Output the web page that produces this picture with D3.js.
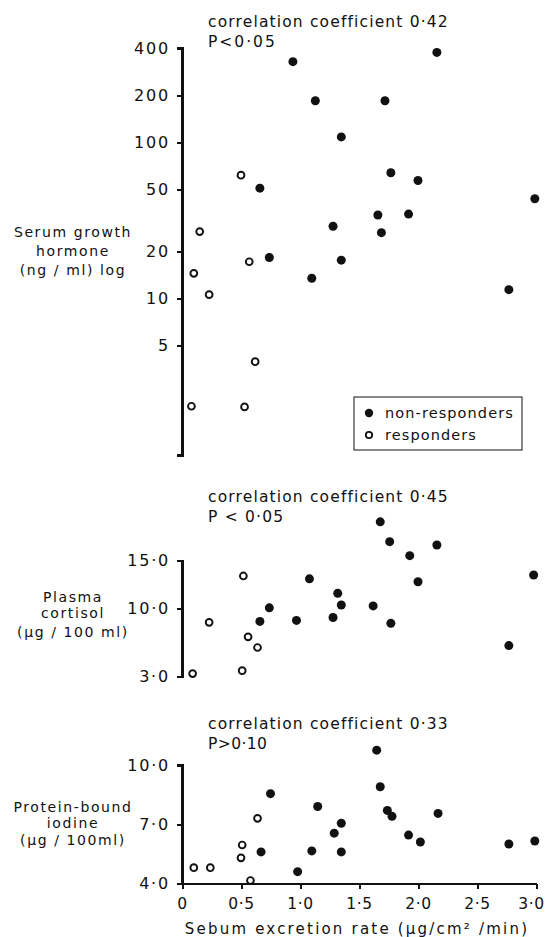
<!DOCTYPE html>
<html>
<head>
<meta charset="utf-8">
<script src="https://cdn.jsdelivr.net/npm/d3@7"></script>
<style>
  html, body { margin: 0; padding: 0; background: #fff; }
  svg { display: block; }
  .domain, .tick line { shape-rendering: crispEdges; }
</style>
</head>
<body>
<svg id="chart" width="549" height="937"></svg>
<script>
// ---------- DATA ----------
// Panel 1: Serum growth hormone (ng/ml, log scale)
const gh_non_x = [0.94, 2.16, 1.13, 1.72, 1.35, 1.77, 2.00, 0.66, 2.99, 1.66, 1.92, 1.28, 1.69, 0.74, 1.10, 1.35, 2.77];
const gh_non_y = [327, 375, 184, 184, 108, 63.7, 56.9, 50.8, 43.5, 34.2, 34.7, 29.0, 26.4, 18.3, 13.5, 17.6, 11.4];
const gh_resp_x = [0.50, 0.15, 0.10, 0.23, 0.57, 0.62, 0.08, 0.53];
const gh_resp_y = [61.5, 26.8, 14.5, 10.6, 17.2, 3.95, 2.05, 2.03];
const gh_ticks = [400, 200, 100, 50, 20, 10, 5];

// Panel 2: Plasma cortisol (µg/100 ml)
const co_non_x = [1.68, 1.76, 2.16, 1.93, 2.98, 1.08, 2.00, 1.32, 0.74, 1.35, 1.62, 0.66, 0.97, 1.28, 1.77, 2.77];
const co_non_y = [19.0, 16.95, 16.6, 15.5, 13.5, 13.1, 12.8, 11.6, 10.1, 10.4, 10.3, 8.7, 8.8, 9.1, 8.5, 6.2];
const co_resp_x = [0.52, 0.23, 0.56, 0.64, 0.09, 0.51];
const co_resp_y = [13.4, 8.6, 7.1, 6.0, 3.3, 3.6];
const co_ticks = [15, 10, 3];
const co_tick_labels = ["15·0", "10·0", "3·0"];

// Panel 3: Protein-bound iodine (µg/100 ml)
const pbi_non_x = [1.65, 1.68, 0.75, 1.15, 1.74, 1.78, 2.17, 1.35, 1.29, 1.92, 2.02, 2.77, 2.99, 0.67, 1.10, 1.35, 0.98];
const pbi_non_y = [10.75, 8.9, 8.55, 7.9, 7.7, 7.4, 7.55, 7.05, 6.55, 6.45, 6.1, 6.0, 6.15, 5.6, 5.65, 5.6, 4.6];
const pbi_resp_x = [0.64, 0.51, 0.50, 0.10, 0.24, 0.58];
const pbi_resp_y = [7.3, 5.95, 5.3, 4.8, 4.8, 4.15];
const pbi_ticks = [10, 7, 4];
const pbi_tick_labels = ["10·0", "7·0", "4·0"];

// X axis
const x_ticks = [0, 0.5, 1, 1.5, 2, 2.5, 3];
const x_tick_labels = ["0", "0·5", "1·0", "1·5", "2·0", "2·5", "3·0"];

const stats = [
  ["correlation coefficient  0·42", "P<0·05"],
  ["correlation coefficient  0·45", "P < 0·05"],
  ["correlation coefficient  0·33", "P>0·10"]
];
const legendLabels = ["non-responders", "responders"];

// ---------- DRAW ----------
const svg = d3.select("#chart");
const FONT = "DejaVu Sans, sans-serif";
const INK = "#111";
const x = d3.scaleLinear().domain([0, 3]).range([182, 536]);
const yGH = d3.scaleLog().domain([1, 400]).range([455, 48]);
const yCO = d3.scaleLinear().domain([3, 15]).range([676.5, 560.5]);
const yPBI = d3.scaleLinear().domain([4, 10]).range([883.5, 765]);
const tickFont = 16;

function txt(xp, yp, s, size, ls, anchor) {
  return svg.append("text").attr("x", xp).attr("y", yp)
    .attr("font-family", FONT).attr("font-size", size)
    .attr("letter-spacing", ls).attr("fill", INK)
    .attr("text-anchor", anchor || "start").text(s);
}
function dots(xs, ys, yScale, filled) {
  const data = xs.map((v, i) => [v, ys[i]]);
  svg.append("g").selectAll("circle").data(data).join("circle")
    .attr("cx", d => x(d[0])).attr("cy", d => yScale(d[1]))
    .attr("r", filled ? 4.5 : 3.4)
    .attr("fill", filled ? INK : "#fff").attr("stroke", INK)
    .attr("stroke-width", filled ? 0 : 1.9);
}
dots(gh_resp_x, gh_resp_y, yGH, false);
dots(gh_non_x, gh_non_y, yGH, true);
dots(co_resp_x, co_resp_y, yCO, false);
dots(co_non_x, co_non_y, yCO, true);
dots(pbi_resp_x, pbi_resp_y, yPBI, false);
dots(pbi_non_x, pbi_non_y, yPBI, true);

// X title
txt(357, 934, "Sebum excretion rate  (µg/cm² /min)", 15, 2.2, "middle");

// Stats
const statY = [[27, 47], [502, 522], [729, 749]];
const pSpacing = [2, 1.2, 0.4];
stats.forEach((s, i) => {
  txt(208, statY[i][0], s[0], 15.5, 1.15);
  txt(208, statY[i][1], s[1], 15.5, pSpacing[i]);
});

// Y titles
const yTitles = [
  [["Serum growth", 237], ["hormone", 256], ["(ng / ml) log", 275]],
  [["Plasma", 602], ["cortisol", 618], ["(µg / 100 ml)", 637]],
  [["Protein-bound", 812], ["iodine", 828], ["(µg / 100ml)", 845]]
];
yTitles.forEach(lines => lines.forEach(([t, yy]) => txt(73, yy, t, 14, 1.6, "middle")));

// Legend
svg.append("rect").attr("x", 354).attr("y", 397).attr("width", 168).attr("height", 53)
  .attr("fill", "#fff").attr("stroke", INK).attr("stroke-width", 1);
svg.append("circle").attr("cx", 369).attr("cy", 413).attr("r", 4.2).attr("fill", INK);
svg.append("circle").attr("cx", 369).attr("cy", 435).attr("r", 3.2).attr("fill", "#fff")
  .attr("stroke", INK).attr("stroke-width", 1.8);
txt(385, 418, legendLabels[0], 14.5, 1.1);
txt(385, 440, legendLabels[1], 14.5, 1.1);

// ---------- AXES ----------
function yAxisPanel(scale, ticks, labels) {
  const g = svg.append("g").attr("transform", "translate(182,0)");
  g.call(d3.axisLeft(scale).tickValues(ticks).tickSize(5).tickSizeOuter(5).tickPadding(7)
    .tickFormat((d, i) => labels ? labels[i] : d));
  g.select(".domain").attr("stroke", INK).attr("stroke-width", 2.5).attr("fill", "none");
  g.selectAll(".tick line").attr("stroke", INK).attr("stroke-width", 2);
  g.selectAll(".tick text").attr("font-size", tickFont).attr("letter-spacing", 1.8)
    .attr("font-family", FONT).attr("fill", INK);
}
yAxisPanel(yGH, gh_ticks, null);
yAxisPanel(yCO, co_ticks, co_tick_labels);
yAxisPanel(yPBI, pbi_ticks, pbi_tick_labels);

const gx = svg.append("g").attr("transform", `translate(0,${yPBI(4)})`);
gx.call(d3.axisBottom(x).tickValues(x_ticks).tickSize(5).tickSizeOuter(0).tickPadding(9)
  .tickFormat((d, i) => x_tick_labels[i]));
gx.select(".domain").attr("stroke", INK).attr("stroke-width", 2.5).attr("fill", "none");
gx.selectAll(".tick line").attr("stroke", INK).attr("stroke-width", 2);
gx.selectAll(".tick text").attr("font-size", 15.5).attr("letter-spacing", 0.6)
  .attr("font-family", FONT).attr("fill", INK)
  .attr("dx", (d, i) => i === x_ticks.length - 1 ? -5 : 0);
</script>
</body>
</html>
